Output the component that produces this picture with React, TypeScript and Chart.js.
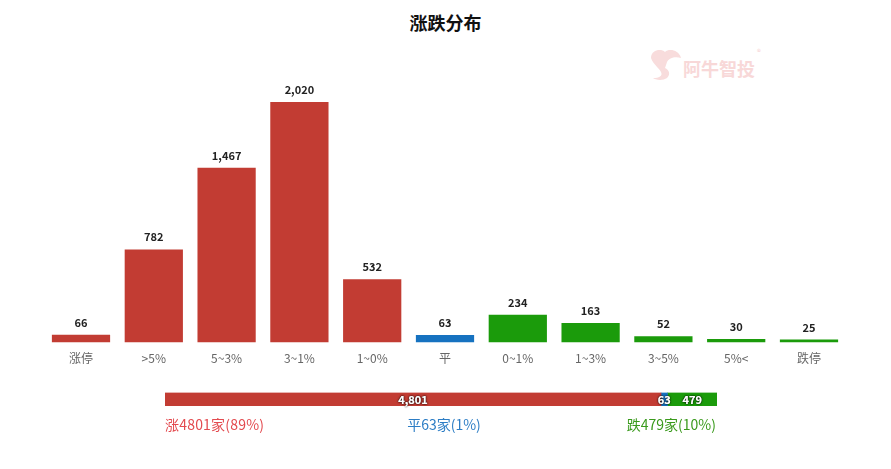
import React, { useEffect, useRef } from "react";
import { Chart, registerables } from "chart.js";

Chart.register(...registerables);

const categories = ["涨停", ">5%", "5~3%", "3~1%", "1~0%", "平", "0~1%", "1~3%", "3~5%", "5%<", "跌停"];
const counts = [66, 782, 1467, 2020, 532, 63, 234, 163, 52, 30, 25];

const summaryLabels = ["涨", "平", "跌"];
const summaryCounts = [4801, 63, 479];
const summaryPercents = [89, 1, 10];

const RED = "#c23c33";
const BLUE = "#1672c0";
const GREEN = "#1b9b0b";
const FONT = '"Noto Sans CJK SC", "Noto Sans", sans-serif';

const fmt = (v: number) => v.toLocaleString("en-US");

const barLabelPlugin = {
  id: "barLabels",
  afterDatasetsDraw(chart: any) {
    const ctx = chart.ctx;
    const meta = chart.getDatasetMeta(0);
    ctx.save();
    ctx.font = `bold 11px ${FONT}`;
    ctx.fillStyle = "#222";
    ctx.textAlign = "center";
    ctx.textBaseline = "alphabetic";
    meta.data.forEach((el: any, i: number) => {
      const v = chart.data.datasets[0].data[i];
      ctx.fillText(fmt(v), el.x, el.y - 8);
    });
    ctx.restore();
  },
};

const stackLabelPlugin = {
  id: "stackLabels",
  afterDatasetsDraw(chart: any) {
    const ctx = chart.ctx;
    ctx.save();
    ctx.font = `bold 11px ${FONT}`;
    ctx.textAlign = "center";
    ctx.textBaseline = "middle";
    ctx.lineJoin = "round";
    chart.data.datasets.forEach((ds: any, di: number) => {
      const el: any = chart.getDatasetMeta(di).data[0];
      if (!el) return;
      const cx = (el.x + el.base) / 2;
      const txt = fmt(ds.data[0]);
      ctx.shadowColor = "rgba(0,0,0,0.8)";
      ctx.shadowBlur = 2;
      ctx.shadowOffsetX = 0;
      ctx.shadowOffsetY = 0;
      ctx.fillStyle = "#fff";
      ctx.fillText(txt, cx, el.y + 0.5);
      ctx.fillText(txt, cx, el.y + 0.5);
    });
    ctx.restore();
  },
};

function DistChart() {
  const ref = useRef<HTMLCanvasElement>(null);
  useEffect(() => {
    if (!ref.current) return;
    const chart = new Chart(ref.current, {
      type: "bar",
      data: {
        labels: categories,
        datasets: [
          {
            data: counts,
            backgroundColor: (c: any) => (c.dataIndex < 5 ? RED : c.dataIndex === 5 ? BLUE : GREEN),
            barPercentage: 0.8,
            categoryPercentage: 1,
          },
        ],
      },
      options: {
        animation: false,
        responsive: false,
        maintainAspectRatio: false,
        layout: { padding: { left: 44.6, right: 45.6, top: 80.6, bottom: 0 } },
        plugins: { legend: { display: false }, tooltip: { enabled: false }, title: { display: false } },
        scales: {
          x: {
            grid: { display: false, drawTicks: false },
            border: { display: false },
            ticks: { color: "#666", font: { size: 12, family: FONT }, padding: 9, maxRotation: 0 },
            afterFit: (s: any) => {
              s.height = 38.5;
            },
          },
          y: { display: false, min: 0, max: 2200 },
        },
      },
      plugins: [barLabelPlugin],
    });
    return () => chart.destroy();
  }, []);
  return <canvas ref={ref} width={891} height={381} style={{ position: "absolute", left: 0, top: 0 }} />;
}

function StackChart() {
  const ref = useRef<HTMLCanvasElement>(null);
  useEffect(() => {
    if (!ref.current) return;
    const total = summaryCounts.reduce((a, b) => a + b, 0);
    const colors = [RED, BLUE, GREEN];
    const chart = new Chart(ref.current, {
      type: "bar",
      data: {
        labels: [""],
        datasets: summaryCounts.map((v, i) => ({
          label: summaryLabels[i],
          data: [v],
          backgroundColor: colors[i],
          barPercentage: 1,
          categoryPercentage: 1,
        })),
      },
      options: {
        indexAxis: "y",
        animation: false,
        responsive: false,
        maintainAspectRatio: false,
        layout: { padding: { left: 165, right: 174, top: 7.5, bottom: 9 } },
        plugins: { legend: { display: false }, tooltip: { enabled: false } },
        scales: {
          x: { display: false, stacked: true, min: 0, max: total },
          y: { display: false, stacked: true },
        },
      },
      plugins: [stackLabelPlugin],
    });
    return () => chart.destroy();
  }, []);
  return <canvas ref={ref} width={891} height={30} style={{ position: "absolute", left: 0, top: 385 }} />;
}

export default function App() {
  const textStyle: React.CSSProperties = {
    position: "absolute",
    top: 415,
    fontFamily: FONT,
    fontSize: 14,
    lineHeight: "18px",
    whiteSpace: "nowrap",
  };
  return (
    <div style={{ position: "relative", width: 891, height: 469, background: "#fff", overflow: "hidden" }}>
      <style>{`body{margin:0;background:#fff}`}</style>
      <div
        style={{
          position: "absolute",
          top: 10,
          left: 0,
          width: 891,
          textAlign: "center",
          fontFamily: FONT,
          fontWeight: "bold",
          fontSize: 18,
          lineHeight: "24px",
          color: "#111",
        }}
      >
        涨跌分布
      </div>
      <svg width={40} height={36} style={{ position: "absolute", left: 645, top: 46 }} viewBox="0 0 40 36">
        <path
          d="M6 12 C6 4 16 2 20 6 C24 2 34 4 36 12 C30 10 24 12 22 16 L20 22 C24 24 26 28 22 32 C18 35 10 34 8 32 C14 32 18 30 16 26 C14 22 8 18 6 12 Z"
          fill="#f8dcdc"
        />
      </svg>
      <div
        style={{
          position: "absolute",
          left: 683,
          top: 56,
          fontFamily: FONT,
          fontWeight: "bold",
          fontSize: 18,
          lineHeight: "24px",
          color: "#f8d8d8",
          whiteSpace: "nowrap",
        }}
      >
        阿牛智投
      </div>
      <div
        style={{
          position: "absolute",
          left: 757,
          top: 46,
          fontFamily: FONT,
          fontSize: 8,
          color: "#f6d0d0",
        }}
      >
        ®
      </div>
      <DistChart />
      <StackChart />
      <div style={{ ...textStyle, left: 165, color: "#e34a4f", letterSpacing: 0.2 }}>
        {summaryLabels[0]}
        {summaryCounts[0]}家({summaryPercents[0]}%)
      </div>
      <div style={{ ...textStyle, left: 344, width: 200, textAlign: "center", color: "#2c7dc5" }}>
        {summaryLabels[1]}
        {summaryCounts[1]}家({summaryPercents[1]}%)
      </div>
      <div style={{ ...textStyle, right: 891 - 716, color: "#3a9a1c" }}>
        {summaryLabels[2]}
        {summaryCounts[2]}家({summaryPercents[2]}%)
      </div>
    </div>
  );
}
